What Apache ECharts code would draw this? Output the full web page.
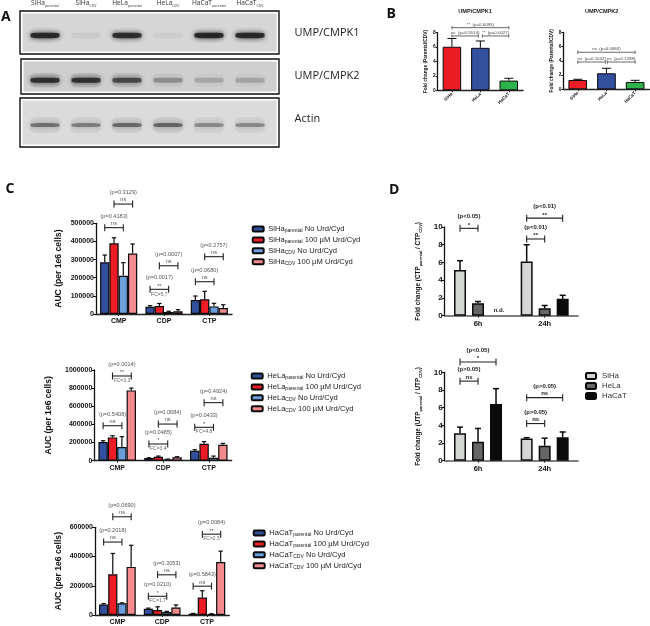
<!DOCTYPE html>
<html><head><meta charset="utf-8">
<style>html,body{margin:0;padding:0;background:#fff}#c{width:650px;height:626px}</style>
<script src="https://cdn.jsdelivr.net/npm/echarts@6/dist/echarts.min.js"></script>
</head><body><div id="c"></div>
<script>
// ---------- Panel A: blot band intensities ----------
const lanes=['SiHa|parental','SiHa|CDV','HeLa|parental','HeLa|CDV','HaCaT|parental','HaCaT|CDV'];
const blotRows=['UMP/CMPK1','UMP/CMPK2','Actin'];
const cmpk1Bands=[0.98,0.07,0.95,0.05,1,0.98];
const cmpk2Bands=[0.92,0.9,0.75,0.35,0.22,0.24];
const actinBands=[0.55,0.48,0.6,0.62,0.42,0.42];
// ---------- Panel B ----------
const cellLines=['SiHa','HeLa','HaCaT'];
const cmpk1Fold=[6.05,5.9,1.35], cmpk1FoldTop=[7.2,6.85,1.67];
const cmpk2Fold=[1.3,2.25,1.03], cmpk2FoldTop=[1.4,2.95,1.26];
// ---------- Panel C ----------
const metabolites=['CMP','CDP','CTP'];
const siHaPNo=[285000,40000,77000], siHaPNoTop=[325000,46000,99000];
const siHaPUrd=[390000,44000,81000], siHaPUrdTop=[420000,58000,125000];
const siHaCNo=[211000,11000,42000], siHaCNoTop=[283000,15000,59000];
const siHaCUrd=[333000,15000,33000], siHaCUrdTop=[386000,24000,51000];
const heLaPNo=[206000,29000,110000], heLaPNoTop=[220000,32000,121000];
const heLaPUrd=[257000,44000,187000], heLaPUrdTop=[275000,51000,210000];
const heLaCNo=[150000,15000,33000], heLaCNoTop=[265000,18000,51000];
const heLaCUrd=[775000,37000,176000], heLaCUrdTop=[800000,44000,191000];
const haCaTPNo=[72000,43000,9000], haCaTPNoTop=[78000,47000,11000];
const haCaTPUrd=[278000,34000,119000], haCaTPUrdTop=[421000,56000,166000];
const haCaTCNo=[80000,20000,7000], haCaTCNoTop=[83000,25000,9000];
const haCaTCUrd=[329000,51000,363000], haCaTCUrdTop=[477000,69000,437000];
const legendTail=[' No Urd/Cyd',' 100 µM Urd/Cyd',' No Urd/Cyd',' 100 µM Urd/Cyd'];
const legendSub=['parental','parental','CDV','CDV'];
// ---------- Panel D ----------
const timepoints=['6h','24h'];
const ctpSiHa=[5.15,6.1], ctpSiHaTop=[6.2,8.0];
const ctpHeLa=[1.4,0.85], ctpHeLaTop=[1.6,1.15];
const ctpHaCaT=[null,1.9], ctpHaCaTTop=[null,2.3];
const utpSiHa=[3.1,2.5], utpSiHaTop=[3.8,2.6];
const utpHeLa=[2.15,1.7], utpHeLaTop=[3.65,2.55];
const utpHaCaT=[6.4,2.65], utpHaCaTTop=[8.15,3.25];
// ---------- Significance brackets: [category, first bar, last bar, value height, p text, mark, fold change]
const c1Sig=[[0,0,2,476000,'(p=0.4183)','ns'],[0,1,3,606000,'(p=0.3129)','ns'],[1,0,2,136000,'(p=0.0017)','**','FC=5.7'],[1,1,3,266000,'(p=0.0007)','ns'],[2,0,2,178000,'(p=0.0680)','ns'],[2,1,3,316000,'(p=0.2757)','ns']];
const c2Sig=[[0,0,2,386000,'(p=0.5408)','ns'],[0,1,3,934000,'(p=0.0014)','**','FC=3.3'],[1,0,2,184000,'(p=0.0485)','*','FC=3.4'],[1,1,3,404000,'(p=0.0684)','ns'],[2,0,2,368000,'(p=0.0433)','*','FC=4.8'],[2,1,3,640000,'(p=0.4924)','ns']];
const c3Sig=[[0,0,2,499000,'(p=0.2018)','ns'],[0,1,3,672000,'(p=0.0690)','ns'],[1,0,2,128000,'(p=0.0210)','*','FC=1.7'],[1,1,3,275000,'(p=0.3053)','ns'],[2,0,2,197000,'(p=0.5843)','ns'],[2,1,3,553000,'(p=0.0084)','**','FC=2.5']];
const d1Sig=[[0,0,1,9.85,'(p<0.05)','*'],[1,0,2,11.0,'(p<0.01)','**'],[1,0,1,8.65,'(p<0.01)','**']];
const d2Sig=[[0,0,2,11.17,'(p<0.05)','*'],[0,0,1,9.0,'(p>0.05)','ns'],[1,0,2,7.13,'(p>0.05)','ns'],[1,0,1,4.2,'(p>0.05)','ns']];
const b1Sig=[[0,2,8.7,'**  (p=0.0095)'],[0,0.93,7.55,'ns  (p=0.5514)'],[1.07,2,7.55,'**  (p=0.0027)']];
const b2Sig=[[0,2,5.2,'ns  (p=0.0684)'],[0,0.97,3.83,'ns  (p=0.1042)'],[1.03,2,3.83,'ns  (p=0.1298)']];

const FONT='"Liberation Sans",Arial,sans-serif', OS='"Open Sans",sans-serif';
const COL={blue:'#33509f',red:'#ee1c25',lblue:'#6a9fdc',pink:'#f58a8e',green:'#2db34a',lg:'#d4d6d4',mg:'#666666',blk:'#0a0a0a'};
const grid=[],xAxis=[],yAxis=[],series=[],legend=[];
const rawVal=d=>(d&&typeof d==='object')?d.value:d;

function addChart(o){
  const i=grid.length;
  grid.push({left:o.x0,width:o.x1-o.x0,top:o.yTop,height:o.yBot-o.yTop,containLabel:false});
  xAxis.push({gridIndex:i,type:'category',data:o.cats,
    axisLine:{lineStyle:{color:o.xLine||'#222',width:o.xlw||1.4}},
    axisTick:{show:true,alignWithLabel:true,length:o.tick||2,lineStyle:{color:'#222',width:1}},
    axisLabel:Object.assign({color:'#111',fontFamily:FONT,fontWeight:'bold',fontSize:o.catSize||7,margin:o.catMargin||4,interval:0},o.catExtra||{})});
  yAxis.push({gridIndex:i,type:'value',min:0,max:o.max,interval:o.step,
    name:o.name,nameLocation:'middle',nameGap:o.nameGap,
    nameTextStyle:Object.assign({color:'#111',fontFamily:FONT,fontWeight:'bold',fontSize:o.nameSize},o.nameExtra||{}),
    splitLine:{show:false},
    axisLine:{show:true,lineStyle:{color:'#111',width:o.ylw||1.3}},
    axisTick:{show:true,length:o.tick||3,lineStyle:{color:'#111',width:1}},
    axisLabel:{color:'#111',fontFamily:FONT,fontWeight:'bold',fontSize:o.tickSize,margin:o.tickMargin||2,hideOverlap:false,formatter:v=>String(v)}});
  const n=o.bars.length, cap=o.cap;
  o.bars.forEach(b=>{
    series.push({type:'bar',name:b.name,xAxisIndex:i,yAxisIndex:i,data:b.data,
      barGap:o.barGap,barCategoryGap:o.catGap,silent:true,animation:false,
      itemStyle:{color:b.color,borderColor:'#0a0a0a',borderWidth:o.blw}});
  });
  // upper error bars
  const err=[];
  o.bars.forEach((b,bi)=>b.top.forEach((t,ci)=>{if(t!=null)err.push([0,t,ci,bi,rawVal(b.data[ci])]);}));
  series.push({type:'custom',xAxisIndex:i,yAxisIndex:i,silent:true,animation:false,z:1,data:err,encode:{x:0,y:1},
    renderItem(p,api){
      const ci=api.value(2),bi=api.value(3);
      const band=api.size([1,0])[0];
      const base=api.coord([0,api.value(4)]),top=api.coord([0,api.value(1)]);
      const x=base[0]+(ci+(bi-(n-1)/2)*o.stepFrac)*band;
      const st={stroke:'#0a0a0a',lineWidth:o.elw||1.2};
      return {type:'group',children:[
        {type:'line',shape:{x1:x,y1:base[1],x2:x,y2:top[1]},style:st},
        {type:'line',shape:{x1:x-cap,y1:top[1],x2:x+cap,y2:top[1]},style:st}]};
    }});
  // significance brackets
  if(o.sig){
    series.push({type:'custom',xAxisIndex:i,yAxisIndex:i,silent:true,animation:false,z:5,
      data:o.sig.map(s=>[0,s[3]]),encode:{x:0,y:1},
      renderItem(p,api){
        const s=o.sig[p.dataIndex];
        const band=api.size([1,0])[0],c=api.coord([0,s[3]]);
        const a=c[0]+(s[0]+(s[1]-(n-1)/2)*o.stepFrac)*band, e=c[0]+(s[0]+(s[2]-(n-1)/2)*o.stepFrac)*band,y=c[1];
        const st={stroke:'#222',lineWidth:1.1}, m=(a+e)/2;
        const kids=[{type:'line',shape:{x1:a,y1:y,x2:e,y2:y},style:st},
          {type:'line',shape:{x1:a,y1:y-3.5,x2:a,y2:y+3.5},style:st},
          {type:'line',shape:{x1:e,y1:y-3.5,x2:e,y2:y+3.5},style:st}];
        const T=(t,dy,f,col)=>({type:'text',style:{text:t,x:m,y:y+dy,font:f,fill:col,textAlign:'center',textVerticalAlign:'middle'}});
        kids.push(T(s[4],-11.5,o.pFont,o.pCol));
        kids.push(T(s[5],s[5]=='ns'?-4.2:-3.2,o.pFont,o.pCol));
        if(s[6])kids.push(T(s[6],4.8,'5px '+FONT,'#666'));
        return {type:'group',children:kids};
      }});
  }
  if(o.thinSig){
    series.push({type:'custom',xAxisIndex:i,yAxisIndex:i,silent:true,animation:false,z:5,
      data:o.thinSig.map(s=>[0,s[2]]),encode:{x:0,y:1},
      renderItem(p,api){
        const s=o.thinSig[p.dataIndex];
        const band=api.size([1,0])[0],c=api.coord([0,s[2]]);
        const a=c[0]+s[0]*band,e=c[0]+s[1]*band,y=c[1],st={stroke:'#444',lineWidth:0.8};
        return {type:'group',children:[
          {type:'line',shape:{x1:a,y1:y,x2:e,y2:y},style:st},
          {type:'line',shape:{x1:a,y1:y-1.6,x2:a,y2:y+1.6},style:st},
          {type:'line',shape:{x1:e,y1:y-1.6,x2:e,y2:y+1.6},style:st},
          {type:'text',style:{text:s[3],x:(a+e)/2,y:y-3.2,font:'4.4px '+FONT,fill:'#444',textAlign:'center',textVerticalAlign:'middle'}}]};
      }});
  }
  return i;
}

// ---- Panel A grid ----
const gi=grid.length;
grid.push({left:24.5,width:246,top:12.5,height:135});
xAxis.push({gridIndex:gi,type:'category',data:lanes,position:'top',axisLine:{show:false},axisTick:{show:false},
  axisLabel:{interval:0,margin:5,formatter:v=>{const p=v.split('|');return '{a|'+p[0]+'}{b|'+p[1]+'}';},
    rich:{a:{fontFamily:OS,fontSize:6.6,color:'#333',lineHeight:9},b:{fontFamily:OS,fontSize:3.6,color:'#333',verticalAlign:'bottom',lineHeight:8}}}});
yAxis.push({gridIndex:gi,type:'category',data:blotRows,inverse:true,axisLine:{show:false},axisTick:{show:false},axisLabel:{show:false}});
[cmpk1Bands,cmpk2Bands,actinBands].forEach((row,r)=>{
  const pts=(w,blur)=>row.map((a,l)=>{const c='rgba(20,20,20,'+(a*w).toFixed(3)+')';return {value:[l,r],itemStyle:{color:c,shadowColor:c,shadowBlur:blur}};});
  series.push({type:'scatter',xAxisIndex:gi,yAxisIndex:gi,symbol:'roundRect',symbolSize:[30,r==2?16:14],silent:true,animation:false,z:2,data:pts(r==0?0.03:0.14,12)});
  series.push({type:'scatter',xAxisIndex:gi,yAxisIndex:gi,symbol:'roundRect',symbolSize:[29,r==0?5.5:r==1?5:4],silent:true,animation:false,z:3,data:pts(1,5)});
});

// ---- Panel B ----
const paint=(arr,cols)=>arr.map((v,k)=>({value:v,itemStyle:{color:cols[k]}}));
const bCols=[COL.red,COL.blue,COL.green];
const rot={rotate:45};
addChart({x0:437.7,x1:523,yTop:32.7,yBot:90.3,cats:cellLines,max:8,step:2,name:'Fold change (Parental/CDV)',nameGap:10,nameSize:4.8,tickSize:4.8,catSize:4.5,catMargin:3,catExtra:rot,tick:2,
  bars:[{name:'b1',data:paint(cmpk1Fold,bCols),top:cmpk1FoldTop,color:COL.red}],barGap:'0%',catGap:'35%',blw:1,stepFrac:0,cap:4.5,elw:1,thinSig:b1Sig});
addChart({x0:563.4,x1:649.5,yTop:32.3,yBot:89.3,cats:cellLines,max:8,step:2,name:'Fold change (Parental/CDV)',nameGap:9,nameSize:4.8,tickSize:4.8,catSize:4.5,catMargin:3,catExtra:rot,tick:2,
  bars:[{name:'b2',data:paint(cmpk2Fold,bCols),top:cmpk2FoldTop,color:COL.red}],barGap:'0%',catGap:'35%',blw:1,stepFrac:0,cap:4.5,elw:1,thinSig:b2Sig});

// ---- Panel C ----
function cChart(cell,y0,y1,x0,x1,max,step,gap,arrs,sig,lx,ly){
  const cols=[COL.blue,COL.red,COL.lblue,COL.pink];
  const names=cols.map((c,k)=>cell+'|'+legendSub[k]+'|'+legendTail[k]);
  addChart({x0,x1,yTop:y0,yBot:y1,cats:metabolites,max,step,name:'AUC (per 1e6 cells)',nameGap:gap,nameSize:8.6,tickSize:7,catSize:7,
    bars:cols.map((c,k)=>({name:names[k],data:arrs[k*2],top:arrs[k*2+1],color:c})),
    barGap:'0%',catGap:'18%',blw:1.2,stepFrac:0.205,cap:2.2,sig,pFont:'5.6px '+FONT,pCol:'#555'});
  legend.push({data:names,left:lx,top:ly,orient:'vertical',selectedMode:false,itemWidth:11,itemHeight:5,itemGap:2.4,padding:0,
    formatter:v=>{const p=v.split('|');return '{a|'+p[0]+'}{b|'+p[1]+'}{a|'+p[2]+'}';},
    textStyle:{padding:[0,0,0,-0.5],rich:{a:{fontFamily:FONT,fontSize:7.6,color:'#222',lineHeight:9},b:{fontFamily:FONT,fontSize:5,color:'#222',verticalAlign:'bottom',lineHeight:8}}}});
}
cChart('SiHa',223.3,314,96,232,500000,100000,33,[siHaPNo,siHaPNoTop,siHaPUrd,siHaPUrdTop,siHaCNo,siHaCNoTop,siHaCUrd,siHaCUrdTop],c1Sig,251.7,225);
cChart('HeLa',370,460.7,94.3,231.7,1000000,200000,41,[heLaPNo,heLaPNoTop,heLaPUrd,heLaPUrdTop,heLaCNo,heLaCNoTop,heLaCUrd,heLaCUrdTop],c2Sig,250.7,372);
cChart('HaCaT',527.3,616.7,95,229.3,600000,200000,32,[haCaTPNo,haCaTPNoTop,haCaTPUrd,haCaTPUrdTop,haCaTCNo,haCaTCNoTop,haCaTCUrd,haCaTCUrdTop],c3Sig,252.7,529);

// ---- Panel D ----
const dRich={n:{fontFamily:FONT,fontWeight:'bold',fontSize:6.4,color:'#111',lineHeight:9},s:{fontFamily:FONT,fontWeight:'bold',fontSize:4,color:'#111',verticalAlign:'bottom',lineHeight:8}};
function dChart(nuc,y0,y1,arrs,sig){
  const dn=['SiHa','HeLa','HaCaT'],cols=[COL.lg,COL.mg,COL.blk];
  addChart({x0:444.7,x1:578,yTop:y0,yBot:y1,cats:timepoints,max:10,step:2,
    name:'{n|Fold change ('+nuc+'}{s|parental}{n| / '+nuc+'}{s|CDV}{n|)}',nameGap:22,nameSize:6.4,nameExtra:{rich:dRich},tickSize:8,catSize:7.5,xLine:'#555',xlw:1.6,
    bars:cols.map((c,k)=>({name:dn[k],data:arrs[k*2],top:arrs[k*2+1],color:c})),
    barGap:'50%',catGap:'28%',blw:1.5,stepFrac:0.27,cap:3,elw:1.5,sig,pFont:'bold 6px '+FONT,pCol:'#222'});
}
dChart('CTP',227,315.7,[ctpSiHa,ctpSiHaTop,ctpHeLa,ctpHeLaTop,ctpHaCaT,ctpHaCaTTop],d1Sig);
dChart('UTP',372.3,460.7,[utpSiHa,utpSiHaTop,utpHeLa,utpHeLaTop,utpHaCaT,utpHaCaTTop],d2Sig);
legend.push({data:['SiHa','HeLa','HaCaT'],left:585,top:372,orient:'vertical',selectedMode:false,itemWidth:10,itemHeight:6,itemGap:2,padding:0,
  textStyle:{fontFamily:FONT,fontSize:7.8,color:'#333',lineHeight:8,padding:[0,0,0,1]}});

// ---- Static texts and frames ----
const txt=(t,x,y,font,fill,extra)=>({type:'text',silent:true,style:Object.assign({text:t,x,y,font,fill,textVerticalAlign:'middle'},extra||{})});
const panelFrames=[[20,11,259,43,'#d6d6d6'],[21,59,258,35,'#cfcfcf'],[20,98,259,49,'#dbdbdb']];
const gfx=[];
panelFrames.forEach(f=>{
  gfx.push({type:'rect',silent:true,z:-2,shape:{x:f[0],y:f[1],width:f[2],height:f[3]},style:{fill:'#fff',stroke:'#111',lineWidth:1.4}});
  gfx.push({type:'rect',silent:true,z:-1,shape:{x:f[0]+2.5,y:f[1]+2.5,width:f[2]-5,height:f[3]-5},style:{fill:f[4]}});
});
gfx.push(txt('A',1,17.5,'bold 14px '+OS,'#111'));
gfx.push(txt('B',386.5,14.5,'bold 14px '+OS,'#111'));
gfx.push(txt('C',5.5,189.5,'bold 14px '+OS,'#111'));
gfx.push(txt('D',389,190,'bold 14px '+OS,'#111'));
gfx.push(txt('UMP/CMPK1',294.5,33,'11px '+OS,'#222'));
gfx.push(txt('UMP/CMPK2',294.5,76,'11px '+OS,'#222'));
gfx.push(txt('Actin',294.5,119,'11px '+OS,'#222'));
gfx.push(txt('UMP/CMPK1',475,11.5,'bold 5.6px '+FONT,'#222',{textAlign:'center'}));
gfx.push(txt('UMP/CMPK2',601.7,11,'bold 5.6px '+FONT,'#222',{textAlign:'center'}));
gfx.push(txt('n.d.',499,310.5,'bold 6px '+FONT,'#222',{textAlign:'center'}));

const chart=echarts.init(document.getElementById('c'),null,{renderer:'canvas'});
chart.setOption({animation:false,backgroundColor:'#fff',grid,xAxis,yAxis,series,legend,graphic:{elements:gfx}});
</script></body></html>
